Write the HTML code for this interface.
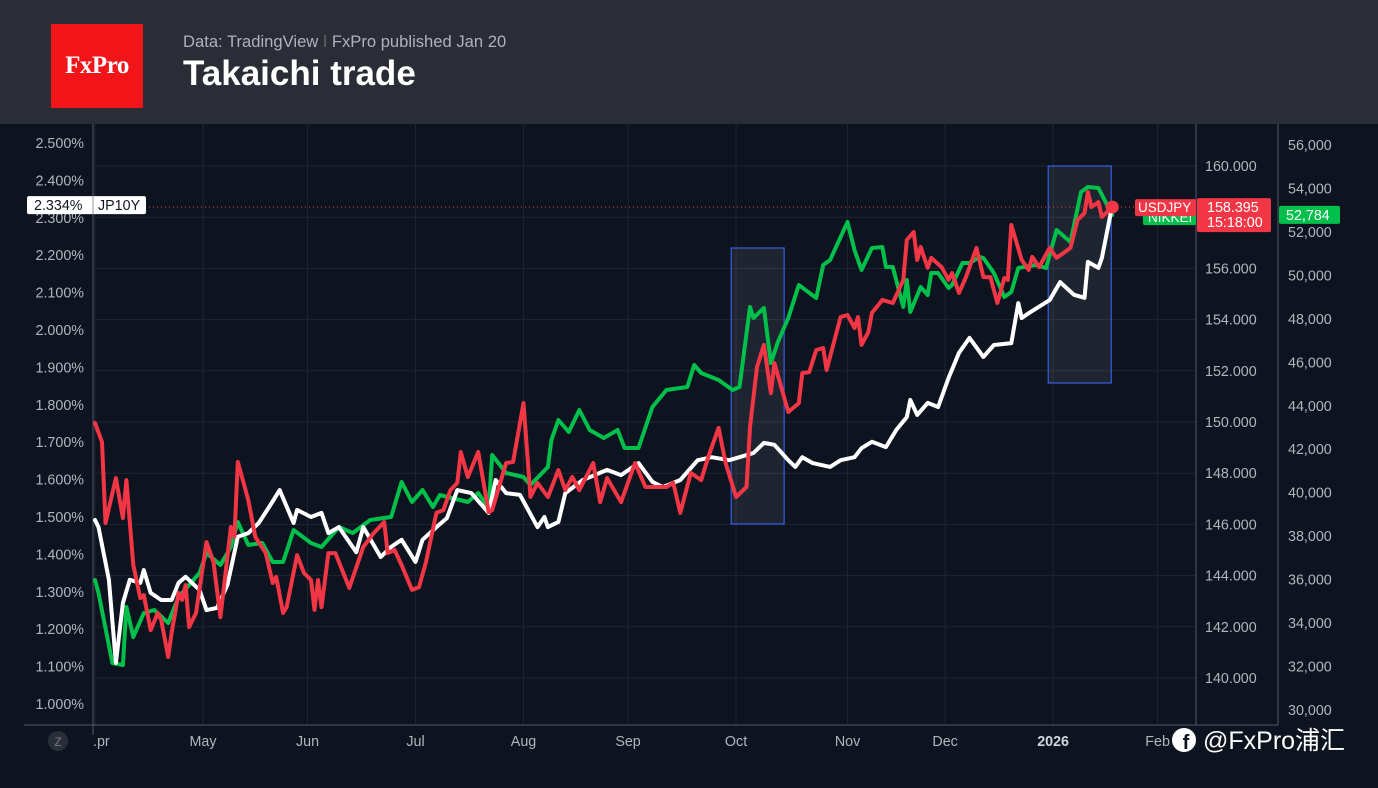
<!DOCTYPE html>
<html><head><meta charset="utf-8"><style>
html,body{margin:0;padding:0;background:#0d131f;width:1378px;height:788px;overflow:hidden;font-family:"Liberation Sans","Noto Sans CJK SC",sans-serif}
#hdr{position:absolute;left:0;top:0;width:1378px;height:124px;background:#2a2d36}
#logo{position:absolute;left:51px;top:24px;width:92px;height:84px;background:#f11419;color:#fff;font-family:"Liberation Serif",serif;font-weight:bold;font-size:25px;line-height:84px;text-align:center;letter-spacing:-0.5px}
#src{position:absolute;left:183px;top:32px;color:#aeb2bb;font-size:16.6px}
#title{position:absolute;left:183px;top:54px;color:#fff;font-size:35px;font-weight:bold}
svg{position:absolute;left:0;top:0}
</style></head><body>
<div id="hdr">
<div id="logo">FxPro</div>
<div id="src">Data: TradingView <span style="color:#666">ǀ</span> FxPro published Jan 20</div>
<div id="title">Takaichi trade</div>
</div>
<svg id="c" width="1378" height="788"></svg>
<script>
// day offsets from Apr 1 2025
const jpDays=[0,1,4,6,8,10,13,14,16,19,22,24,26,30,32,35,38,41,44,47,50,53,57,58,62,65,67,70,75,77,82,85,88,92,94,98,101,104,108,113,115,118,122,127,129,130,133,135,140,147,151,156,160,163,168,173,177,182,185,189,192,195,199,201,203,206,211,214,218,220,223,227,230,233,234,236,239,242,245,248,251,255,258,263,265,266,268,274,277,281,284,285,288,289,292];
const jpVals=[1.492,1.473,1.332,1.110,1.270,1.332,1.324,1.358,1.297,1.278,1.278,1.324,1.340,1.305,1.251,1.257,1.318,1.447,1.457,1.484,1.527,1.572,1.484,1.519,1.500,1.511,1.457,1.473,1.406,1.473,1.393,1.420,1.439,1.380,1.439,1.473,1.497,1.572,1.564,1.511,1.599,1.564,1.559,1.473,1.500,1.473,1.487,1.564,1.599,1.626,1.612,1.644,1.594,1.580,1.599,1.652,1.660,1.652,1.660,1.671,1.698,1.693,1.652,1.634,1.660,1.644,1.634,1.652,1.660,1.684,1.701,1.687,1.733,1.767,1.813,1.773,1.805,1.794,1.872,1.939,1.979,1.928,1.960,1.965,2.072,2.032,2.045,2.080,2.128,2.094,2.086,2.182,2.166,2.193,2.334];
const nkDays=[0,1,5,8,9,11,14,17,21,24,30,32,36,39,41,44,48,51,54,57,62,65,70,74,79,85,88,91,94,97,99,107,110,113,114,118,123,125,130,131,133,136,139,142,146,150,152,156,160,164,170,172,174,179,183,185,188,189,192,194,196,199,202,207,209,211,216,218,220,223,226,227,229,232,233,234,237,239,240,242,245,246,249,251,254,255,258,261,263,265,270,273,276,280,283,285,288,292];
const nkVals=[35981,35383,32162,32070,34739,33358,34463,34601,34002,35199,36303,37224,36672,37500,38650,37592,37684,36810,36810,38282,37684,37500,38420,38144,38742,38881,40491,39571,40123,39341,39893,39571,39985,39295,41734,40905,40721,40353,41182,42424,43344,42792,43805,42884,42516,42884,42056,42056,43943,44725,44863,45876,45507,45185,44725,44863,48545,48039,48499,45968,46934,48039,49557,48959,50478,50708,52456,51168,50247,51260,51306,50386,50386,48545,49787,48315,49465,49097,50109,50109,49419,49557,50570,50570,50846,50800,50109,49005,49235,50340,50478,50340,52088,51536,53837,54067,54021,52784];
const fxDays=[0,2,3,6,8,9,11,13,14,16,18,19,21,22,24,25,26,27,29,32,34,36,39,40,41,44,46,49,51,52,54,55,58,60,62,63,64,65,67,69,73,77,80,83,84,86,88,91,93,95,98,100,102,104,105,107,110,113,114,118,120,123,125,127,130,133,135,137,139,143,145,147,151,155,158,164,166,168,171,174,176,179,181,184,187,188,190,192,194,195,199,202,203,205,207,209,210,214,216,218,219,220,222,223,226,229,232,233,235,236,237,239,240,243,245,246,248,250,253,255,257,259,261,262,263,266,268,269,271,274,276,280,282,284,285,286,288,289,292];
const fxVals=[149.96,149.22,146.05,147.81,146.25,147.73,144.41,143.12,143.24,141.87,142.54,142.27,140.82,141.76,143.32,143.05,143.63,141.99,142.54,145.31,144.53,142.38,145.90,145.51,148.44,146.95,145.51,144.88,143.71,143.95,142.54,142.77,144.80,144.10,143.83,142.66,143.83,142.77,144.88,144.88,143.52,145.12,145.66,146.09,144.88,145.0,144.41,143.44,143.55,144.53,146.45,146.56,147.34,147.62,148.83,147.85,148.83,146.48,146.56,148.40,148.44,150.74,147.07,147.62,147.07,148.12,147.34,147.85,147.34,148.40,146.87,147.81,146.87,148.40,147.46,147.46,147.62,146.45,148.01,147.73,148.63,149.77,148.40,147.07,147.46,149.80,152.15,153.01,151.13,152.30,150.39,150.74,151.91,151.95,152.81,152.89,152.03,154.10,154.18,153.67,154.10,153.01,153.52,154.26,154.77,154.65,155.55,157.11,157.42,156.33,156.84,156.02,156.41,156.05,155.55,155.82,155.04,155.66,156.80,155.66,155.66,154.65,155.62,155.55,157.70,156.33,155.94,156.45,156.05,156.80,156.41,156.80,157.89,158.16,158.98,158.40,158.59,158.01,158.395];
const jpTicks=[2.5,2.4,2.3,2.2,2.1,2.0,1.9,1.8,1.7,1.6,1.5,1.4,1.3,1.2,1.1,1.0];
const fxTicks=[160,158,156,154,152,150,148,146,144,142,140];
const nkTicks=[56000,54000,52000,50000,48000,46000,44000,42000,40000,38000,36000,34000,32000,30000];
const monthLabels=["Apr","May","Jun","Jul","Aug","Sep","Oct","Nov","Dec","2026","Feb"];
const monthDays=[0,31,61,92,123,153,184,216,244,275,305];

const X=d=>95+d*3.484;
const yJP=v=>143+(2.5-v)*374;
const yFX=v=>166+(160-v)*25.6;
const yNK=v=>145+(56000-v)*565/26000;
const svg=document.getElementById('c');
const NS='http://www.w3.org/2000/svg';
function mk(t,a,p){const e=document.createElementNS(NS,t);for(const k in a)e.setAttribute(k,a[k]);(p||svg).appendChild(e);return e;}
function txt(s,x,y,a,p){const e=mk('text',Object.assign({x:x,y:y,fill:'#b2b5be','font-size':14.3,'font-family':'Liberation Sans, sans-serif'},a),p);e.textContent=s;return e;}

fxTicks.forEach(t=>{const l=mk('line',{x1:93,x2:1196,y1:yFX(t),y2:yFX(t),stroke:'#1f2531','stroke-width':1});

});
monthDays.forEach(d=>{const l=mk('line',{x1:X(d),x2:X(d),y1:124,y2:725,stroke:'#1f2531','stroke-width':1});

});

[[182.6,197.8,248,524],[273.6,291.7,166,383]].forEach((b,i)=>{const r=mk('rect',{x:X(b[0]),y:b[2],width:X(b[1])-X(b[0]),height:b[3]-b[2],fill:'rgba(255,255,255,0.08)',stroke:'#3358d4','stroke-width':1.3});

});

[[93,124,93,735],[1196,124,1196,725],[1278,124,1278,725],[24,725,1278,725]].forEach(a=>{const l=mk('line',{x1:a[0],y1:a[1],x2:a[2],y2:a[3],stroke:'#555a64','stroke-width':1});

});

const pl=mk('line',{x1:93,x2:1196,y1:yFX(158.395),y2:yFX(158.395),stroke:'#f23645','stroke-width':1,'stroke-dasharray':'1 3'});



function series(days,vals,fy,col,name){const d=days.map((dd,i)=>(i?'L':'M')+X(dd).toFixed(1)+' '+fy(vals[i]).toFixed(1)).join(' ');
const p=mk('path',{d:d,fill:'none',stroke:col,'stroke-width':4,'stroke-linejoin':'round','stroke-linecap':'round'});

}
series(nkDays,nkVals,yNK,'#00c04b','nikkei-line');
series(jpDays,jpVals,yJP,'#ffffff','jp10y-line');
series(fxDays,fxVals,yFX,'#f23645','usdjpy-line');
const dot=mk('circle',{cx:X(fxDays[fxDays.length-1]),cy:yFX(fxVals[fxVals.length-1]),r:6.5,fill:'#f23645'});



jpTicks.forEach(t=>{const e=txt(t.toFixed(3)+'%',84,yJP(t)+5,{'text-anchor':'end'});

});
fxTicks.forEach(t=>{const e=txt(t.toFixed(3),1205,yFX(t)+5,{});

});
nkTicks.forEach(t=>{const e=txt(t.toLocaleString('en-US'),1288,yNK(t)+5,{});

});
monthLabels.forEach((m,i)=>{const e=txt(i===0?'.pr':m,i===0?93:X(monthDays[i]),746,{'text-anchor':i===0?'start':'middle','font-weight':m==='2026'?'bold':'normal',fill:m==='2026'?'#d1d4dc':'#b2b5be'});

});

const zb=mk('circle',{cx:58,cy:741,r:10,fill:'#2a2e39'});


txt('Z',58,746,{'text-anchor':'middle',fill:'#787b86','font-size':12});

const ly=yFX(158.395);
const g1=mk('rect',{x:1143,y:ly+1,width:53,height:17,rx:2,fill:'#00c04b'});


txt('NIKKEI',1148,ly+15,{fill:'#fff','font-size':13.5});
const r1=mk('rect',{x:1135,y:ly-8,width:61,height:17,rx:2,fill:'#f23645'});


txt('USDJPY',1138,ly+5,{fill:'#fff','font-size':13.5});
const r2=mk('rect',{x:1197,y:ly-9,width:74,height:34,rx:2,fill:'#f23645'});


txt('158.395',1207,ly+5,{fill:'#fff'});
txt('15:18:00',1207,ly+20,{fill:'#fff'});
const g2=mk('rect',{x:1279,y:yNK(52784)-9,width:61,height:18,rx:2,fill:'#00c04b'});


txt('52,784',1286,yNK(52784)+5,{fill:'#fff'});
const jy=yJP(2.334);
const w1=mk('rect',{x:27,y:jy-9,width:119,height:18,rx:2,fill:'#ffffff'});


mk('line',{x1:93,x2:93,y1:jy-9,y2:jy+9,stroke:'#999'});
txt('2.334%',34,jy+5,{fill:'#131722'});
txt('JP10Y',98,jy+5,{fill:'#131722'});

const fb=mk('circle',{cx:1184,cy:740,r:12,fill:'#fff'});


txt('f',1186,749,{fill:'#0d131f','font-size':20,'font-weight':'bold','text-anchor':'middle'});
const wm=txt('@FxPro浦汇',1203,749,{fill:'#fff','font-size':25,'font-family':'Liberation Sans, Noto Sans CJK SC, sans-serif'});


</script>
</body></html>
